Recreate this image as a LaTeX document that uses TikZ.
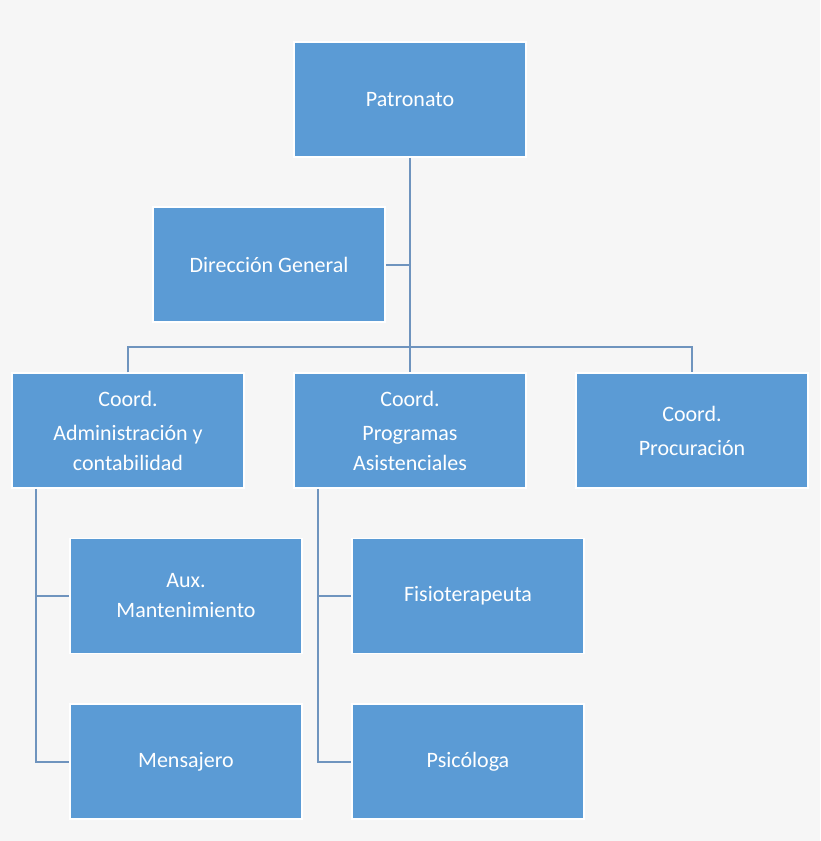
\documentclass[tikz,border=0pt]{standalone}
\usepackage{fontspec}
\setmainfont{Carlito}
\definecolor{boxblue}{HTML}{5B9BD5}
\definecolor{linegray}{HTML}{6F94BE}
\definecolor{bgcol}{HTML}{F6F6F6}
\begin{document}
\begin{tikzpicture}[x=1pt,y=-1pt]
\tikzset{unit/.style={draw=white,line width=1.5pt,fill=boxblue,text=white,
  minimum width=232pt,minimum height=115pt,inner sep=2pt,align=center,
  font=\fontsize{22}{30}\selectfont},
  link/.style={draw=linegray,line width=2pt}}
\fill [bgcol] (0,0) rectangle (820,841);
\node [unit] (patronato) at (410,99.5) {Patronato};
\node [unit] (direccion) at (269,264.5) {Dirección General};
\node [unit] (admin) at (128,430.5) {Coord.\\[4pt]Administración y\\contabilidad};
\node [unit] (programas) at (410,430.5) {Coord.\\[4pt]Programas\\Asistenciales};
\node [unit] (procura) at (692,430.5) {Coord.\\[4pt]Procuración};
\node [unit] (aux) at (186,596) {Aux.\\Mantenimiento};
\node [unit] (mensajero) at (186,761.5) {Mensajero};
\node [unit] (fisio) at (468,596) {Fisioterapeuta};
\node [unit] (psico) at (468,761.5) {Psicóloga};
% junctions
\coordinate (split) at (410,347);
\coordinate (admintrunk) at (36,0);
\coordinate (progtrunk) at (318,0);
\draw [link] (patronato.south) -- (split);
\draw [link] (direccion.east) -- (direccion.east -| patronato.south);
\draw [link] (admin.north) |- (split) -| (procura.north);
\draw [link] (split) -- (programas.north);
\draw [link] (admintrunk |- admin.south) |- (mensajero.west);
\draw [link] (admintrunk |- aux.west) -- (aux.west);
\draw [link] (progtrunk |- programas.south) |- (psico.west);
\draw [link] (progtrunk |- fisio.west) -- (fisio.west);
\end{tikzpicture}
\end{document}
